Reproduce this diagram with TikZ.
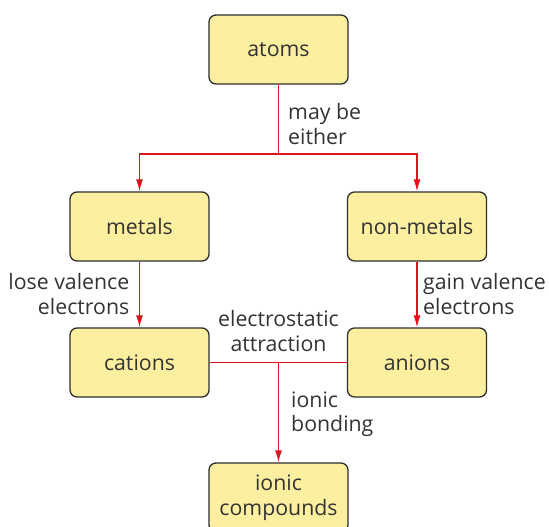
\documentclass[tikz,border=0pt]{standalone}
\usepackage{fontspec}
\setmainfont{Open Sans}
\usetikzlibrary{arrows.meta}
\definecolor{boxfill}{HTML}{FCEFA0}
\definecolor{boxline}{HTML}{2E2E2E}
\definecolor{linkred}{HTML}{E3101E}
\definecolor{ink}{HTML}{333333}

\begin{document}
\begin{tikzpicture}[x=1pt, y=-1pt,
		every block/.style={draw=boxline, fill=boxfill, line width=1.3pt,
			rounded corners=7pt, minimum width=139pt, minimum height=69pt,
			align=center, text=ink, font=\fontsize{21.3}{24.5}\selectfont},
		link/.style={draw=linkred, line width=1.3pt},
		tip/.style={link, -{Latex[length=12pt, width=7pt]}},
		label/.style={inner sep=0pt, text=ink, font=\fontsize{21.3}{24.5}\selectfont}]

		\useasboundingbox (0,0) rectangle (549,527);

		% Top
		\node [every block] (atoms) at (278.5,49.5) {atoms};

		% Metals side
		\node [every block] (metals) at (139.5,226.5) {metals};
		\node [every block] (cations) at (139.5,362.5) {cations};

		% Non-metals side
		\node [every block] (nonmetals) at (417,226.5) {non-metals};
		\node [every block] (anions) at (417,362.5) {anions};

		% Product
		\node [every block] (ionic) at (278.5,497.5) {ionic\\compounds};

		% Junctions
		\coordinate (split) at (278.5,154);
		\coordinate (bond) at (278.5,362);

		\draw [link] (atoms) -- (split);
		\draw [tip] (split) -| (metals);
		\draw [tip] (split) -| (nonmetals);
		\draw [tip] (metals) -- (cations);
		\draw [tip] (nonmetals) -- (anions);
		\draw [link] (cations) -- (anions);
		\draw [tip] (bond) -- (ionic);

		% Labels
		\node [label, anchor=west, align=left] (either) at (288,124) {may be\\either};
		\node [label, anchor=east, align=right] (lose) at (129.5,294) {lose valence\\electrons};
		\node [label, anchor=west, align=left] (gain) at (423,294) {gain valence\\electrons};
		\node [label, align=center] (attract) at (278.5,331) {electrostatic\\attraction};
		\node [label, anchor=west, align=left] (bonding) at (291,414) {ionic\\bonding};

	\end{tikzpicture}
\end{document}
